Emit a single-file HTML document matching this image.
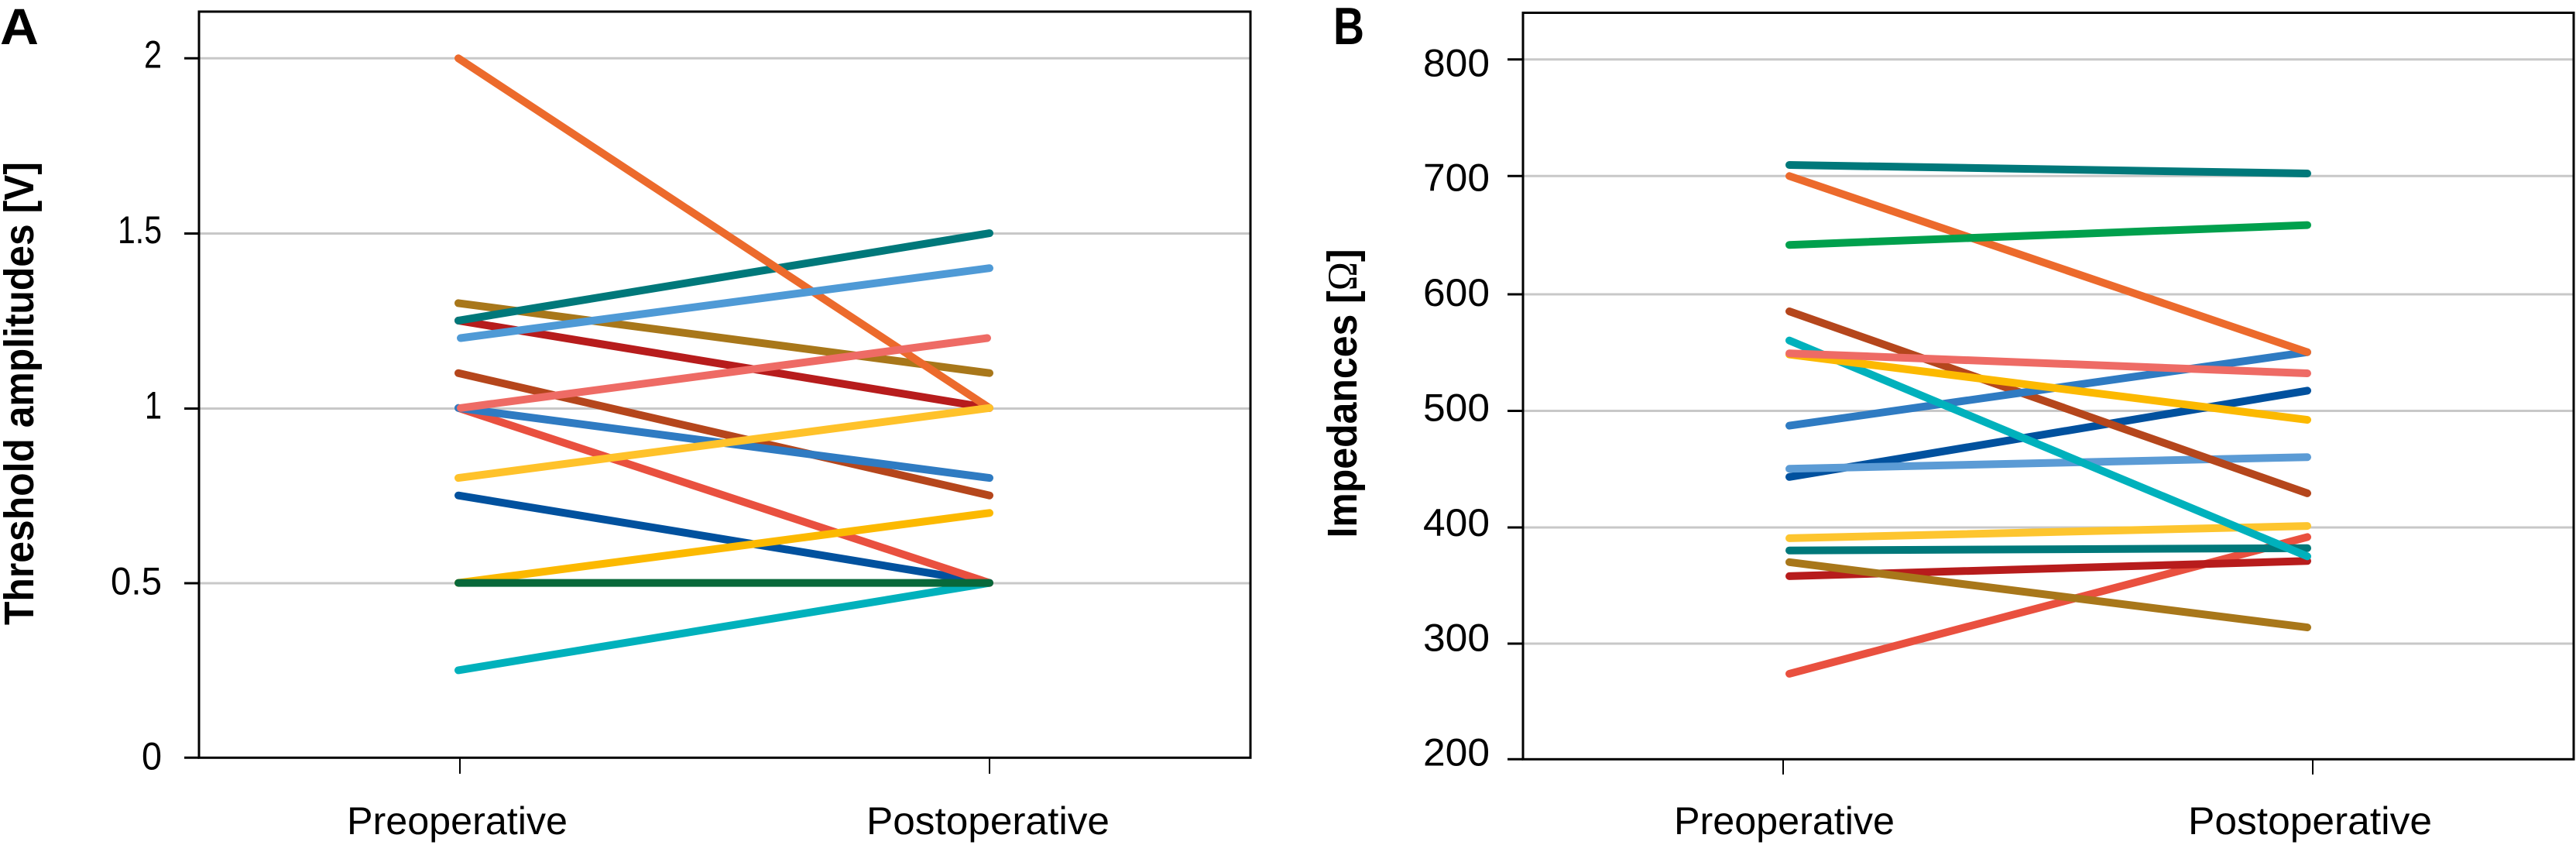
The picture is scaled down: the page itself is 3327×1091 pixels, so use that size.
<!DOCTYPE html>
<html>
<head>
<meta charset="utf-8">
<style>
  html, body { margin: 0; padding: 0; background: #ffffff; }
  body { width: 3327px; height: 1091px; overflow: hidden; }
  svg { display: block; }
  text { font-family: "Liberation Sans", "DejaVu Sans", sans-serif; fill: #000; }
</style>
</head>
<body>
<svg xmlns="http://www.w3.org/2000/svg" width="3327" height="1091" viewBox="0 0 3327 1091">
  <rect x="0" y="0" width="3327" height="1091" fill="#ffffff"/>

  <!-- ================= PANEL A ================= -->
  <text x="0" y="57" font-size="66" font-weight="bold" textLength="50" lengthAdjust="spacingAndGlyphs">A</text>

  <!-- gridlines A -->
  <g stroke="#c8c8c8" stroke-width="3">
    <line x1="257" y1="75.3" x2="1615" y2="75.3"/>
    <line x1="257" y1="301.5" x2="1615" y2="301.5"/>
    <line x1="257" y1="527.5" x2="1615" y2="527.5"/>
    <line x1="257" y1="753" x2="1615" y2="753"/>
  </g>

  <!-- y tick marks A -->
  <g stroke="#000" stroke-width="3">
    <line x1="238" y1="75.3" x2="257" y2="75.3"/>
    <line x1="238" y1="301.5" x2="257" y2="301.5"/>
    <line x1="238" y1="527.5" x2="257" y2="527.5"/>
    <line x1="238" y1="753" x2="257" y2="753"/>
    <line x1="238" y1="978.3" x2="257" y2="978.3"/>
  </g>
  <!-- x tick marks A -->
  <g stroke="#000" stroke-width="2">
    <line x1="594" y1="979" x2="594" y2="999"/>
    <line x1="1278" y1="979" x2="1278" y2="999"/>
  </g>

  <!-- tick labels A -->
  <g font-size="50" text-anchor="end">
    <text x="209" y="87.3" textLength="23" lengthAdjust="spacingAndGlyphs">2</text>
    <text x="209" y="314" textLength="57" lengthAdjust="spacingAndGlyphs">1.5</text>
    <text x="209" y="540.5" textLength="22" lengthAdjust="spacingAndGlyphs">1</text>
    <text x="209" y="767.7" textLength="66" lengthAdjust="spacingAndGlyphs">0.5</text>
    <text x="209" y="993.7" textLength="26" lengthAdjust="spacingAndGlyphs">0</text>
  </g>

  <!-- x labels A -->
  <g font-size="50">
    <text x="448" y="1077" textLength="285" lengthAdjust="spacingAndGlyphs">Preoperative</text>
    <text x="1119" y="1077" textLength="314" lengthAdjust="spacingAndGlyphs">Postoperative</text>
  </g>

  <!-- y title A -->
  <text transform="translate(43,508) rotate(-90)" x="0" y="0" font-size="54" font-weight="bold" text-anchor="middle" textLength="598" lengthAdjust="spacingAndGlyphs">Threshold amplitudes [V]</text>

  <!-- series A -->
  <g stroke-width="10" stroke-linecap="round" fill="none">
    <line x1="592" y1="865.4" x2="1278" y2="752.6" stroke="#00b1bc"/>
    <line x1="592" y1="639.7" x2="1278" y2="752.6" stroke="#01519e"/>
    <line x1="592" y1="526.8" x2="1278" y2="752.6" stroke="#e9503f"/>
    <line x1="592" y1="752.6" x2="1278" y2="662.3" stroke="#fcb900"/>
    <line x1="592" y1="752.6" x2="1278" y2="752.6" stroke="#08683a"/>
    <line x1="592" y1="481.7" x2="1278" y2="639.7" stroke="#b5461c"/>
    <line x1="592" y1="526.8" x2="1278" y2="617.1" stroke="#2f7bc2"/>
    <line x1="592" y1="413.9" x2="1278" y2="526.8" stroke="#b71c1c"/>
    <line x1="592" y1="391.4" x2="1278" y2="481.7" stroke="#a8771a"/>
    <line x1="592" y1="413.9" x2="1278" y2="301.1" stroke="#00787a"/>
    <line x1="592" y1="75.3" x2="1278" y2="526.8" stroke="#ec6a2c"/>
    <line x1="595" y1="436.5" x2="1278" y2="346.2" stroke="#4f9ad6"/>
    <line x1="595" y1="526.8" x2="1275" y2="436.5" stroke="#ee6b65"/>
    <line x1="592" y1="617.1" x2="1278" y2="526.8" stroke="#ffc22a"/>
  </g>

  <!-- frame A -->
  <rect x="257" y="15" width="1358" height="963.3" fill="none" stroke="#000" stroke-width="3"/>

  <!-- ================= PANEL B ================= -->
  <text x="1722" y="57" font-size="68" font-weight="bold" textLength="40" lengthAdjust="spacingAndGlyphs">B</text>

  <!-- gridlines B -->
  <g stroke="#c8c8c8" stroke-width="3">
    <line x1="1967" y1="76.7" x2="3324" y2="76.7"/>
    <line x1="1967" y1="227.3" x2="3324" y2="227.3"/>
    <line x1="1967" y1="380" x2="3324" y2="380"/>
    <line x1="1967" y1="530.5" x2="3324" y2="530.5"/>
    <line x1="1967" y1="681" x2="3324" y2="681"/>
    <line x1="1967" y1="831" x2="3324" y2="831"/>
  </g>

  <!-- y tick marks B -->
  <g stroke="#000" stroke-width="3">
    <line x1="1947" y1="76.7" x2="1967" y2="76.7"/>
    <line x1="1947" y1="227.3" x2="1967" y2="227.3"/>
    <line x1="1947" y1="380" x2="1967" y2="380"/>
    <line x1="1947" y1="530.5" x2="1967" y2="530.5"/>
    <line x1="1947" y1="681" x2="1967" y2="681"/>
    <line x1="1947" y1="831" x2="1967" y2="831"/>
    <line x1="1947" y1="980.3" x2="1967" y2="980.3"/>
  </g>
  <!-- x tick marks B -->
  <g stroke="#000" stroke-width="2">
    <line x1="2303" y1="981" x2="2303" y2="1000"/>
    <line x1="2987" y1="981" x2="2987" y2="1000"/>
  </g>

  <!-- tick labels B -->
  <g font-size="50" text-anchor="end">
    <text x="1924" y="98.3" textLength="86" lengthAdjust="spacingAndGlyphs">800</text>
    <text x="1924" y="246.7" textLength="86" lengthAdjust="spacingAndGlyphs">700</text>
    <text x="1924" y="395.1" textLength="86" lengthAdjust="spacingAndGlyphs">600</text>
    <text x="1924" y="543.5" textLength="86" lengthAdjust="spacingAndGlyphs">500</text>
    <text x="1924" y="691.9" textLength="86" lengthAdjust="spacingAndGlyphs">400</text>
    <text x="1924" y="840.3" textLength="86" lengthAdjust="spacingAndGlyphs">300</text>
    <text x="1924" y="988.7" textLength="86" lengthAdjust="spacingAndGlyphs">200</text>
  </g>

  <!-- x labels B -->
  <g font-size="50">
    <text x="2162" y="1077" textLength="285" lengthAdjust="spacingAndGlyphs">Preoperative</text>
    <text x="2826" y="1077" textLength="315" lengthAdjust="spacingAndGlyphs">Postoperative</text>
  </g>

  <!-- y title B -->
  <text transform="translate(1752,508) rotate(-90)" x="0" y="0" font-size="54" font-weight="bold" text-anchor="middle" textLength="373" lengthAdjust="spacingAndGlyphs">Impedances [<tspan font-family="Liberation Serif, serif" font-weight="normal">Ω</tspan>]</text>

  <!-- series B -->
  <g stroke-width="10" stroke-linecap="round" fill="none">
    <line x1="2311" y1="869.9" x2="2980" y2="693.4" stroke="#e9503f"/>
    <line x1="2311" y1="743.9" x2="2980" y2="724.3" stroke="#b71c1c"/>
    <line x1="2311" y1="725.8" x2="2980" y2="810.1" stroke="#a8771a"/>
    <line x1="2311" y1="710.7" x2="2980" y2="707.7" stroke="#00787a"/>
    <line x1="2311" y1="694.9" x2="2980" y2="679.1" stroke="#fdc52f"/>
    <line x1="2311" y1="615.8" x2="2980" y2="504.4" stroke="#01519e"/>
    <line x1="2311" y1="605.3" x2="2980" y2="590.2" stroke="#5b9bd5"/>
    <line x1="2311" y1="402.0" x2="2980" y2="636.9" stroke="#b5461c"/>
    <line x1="2311" y1="549.6" x2="2980" y2="454.7" stroke="#2f7bc2"/>
    <line x1="2311" y1="439.6" x2="2980" y2="718.3" stroke="#00b1bc"/>
    <line x1="2311" y1="457.7" x2="2980" y2="542.1" stroke="#fcb900"/>
    <line x1="2311" y1="456.2" x2="2980" y2="482.0" stroke="#ee6b65"/>
    <line x1="2311" y1="227.3" x2="2980" y2="454.7" stroke="#ec6a2c"/>
    <line x1="2311" y1="316.2" x2="2980" y2="290.6" stroke="#00a04d"/>
    <line x1="2311" y1="213.0" x2="2980" y2="224.0" stroke="#00787a"/>
  </g>

  <!-- frame B -->
  <rect x="1967" y="16.5" width="1357" height="963.8" fill="none" stroke="#000" stroke-width="3"/>
</svg>
</body>
</html>
